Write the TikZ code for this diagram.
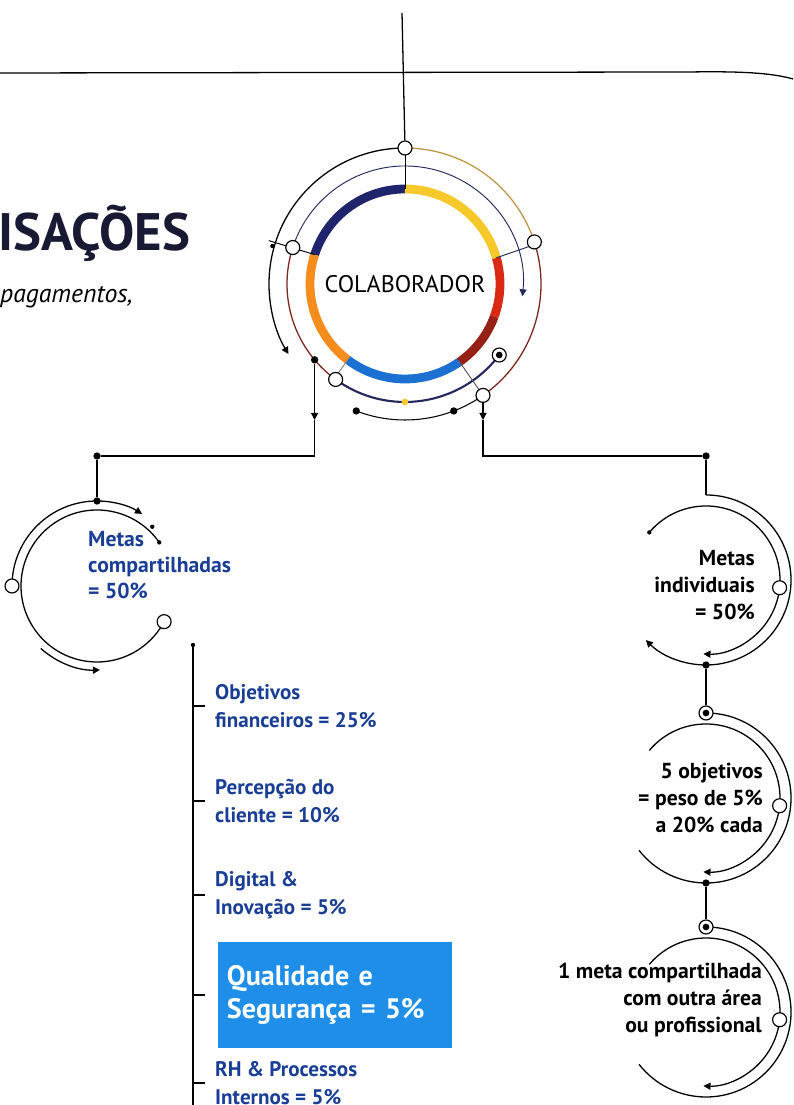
\documentclass[tikz,border=0pt]{standalone}
\usepackage{fontspec}
\setmainfont{PT Sans}
\usetikzlibrary{arrows.meta,positioning,calc}
\definecolor{ringnavy}{RGB}{32,36,108}
\definecolor{ringorange}{RGB}{245,140,30}
\definecolor{ringblue}{RGB}{28,112,210}
\definecolor{ringdark}{RGB}{150,32,22}
\definecolor{ringred}{RGB}{218,42,20}
\definecolor{ringyellow}{RGB}{246,200,42}
\definecolor{goldline}{RGB}{190,150,70}
\definecolor{brownline}{RGB}{122,38,26}
\definecolor{navyline}{RGB}{36,40,92}
\definecolor{textblue}{RGB}{26,62,150}
\definecolor{boxblue}{RGB}{30,142,232}
\definecolor{titlenavy}{RGB}{24,26,52}

\begin{document}
\begin{tikzpicture}[x=0.03cm, y=0.03cm,
		wire/.style={draw, line width=1.1pt},
		arr/.style={wire, -{Triangle[length=6pt,width=6pt]}},
		ring/.style={line width=7.5pt},
		wcirc/.style={circle, draw, fill=white, line width=1pt, inner sep=0pt, minimum size=0.42cm},
		bdot/.style={circle, fill=black, inner sep=0pt, minimum size=0.22cm},
		sdot/.style={circle, fill=black, inner sep=0pt, minimum size=0.13cm},
		bull/.style={wcirc, path picture={\fill[black] (path picture bounding box.center) circle (0.1cm);}},
		goal/.style={font=\bfseries\fontsize{18.5}{22}\selectfont, text=textblue, align=left, anchor=west, inner sep=0pt},
		item/.style={font=\bfseries\fontsize{18}{24}\selectfont, text=textblue, align=left, anchor=west, inner sep=0pt},
		indiv/.style={font=\bfseries\fontsize{18.5}{23}\selectfont, align=right, anchor=east, inner sep=0pt},
		qbox/.style={fill=boxblue, text=white, font=\bfseries\fontsize{24}{28}\selectfont, align=left,
			text width=6.48cm, inner xsep=0.27cm, minimum height=3.15cm}]
	\useasboundingbox (0,0) rectangle (793,1105);

	% Heading
	\node[anchor=west, inner sep=0pt, text=titlenavy, font=\bfseries\fontsize{45}{48}\selectfont] (title) at (-2,872) {ISAÇÕES};
	\node[anchor=west, inner sep=0pt, font=\itshape\fontsize{22}{24}\selectfont] (subtitle) at (0,808) {pagamentos,};
	\coordinate (lineL) at (0,1032);
	\coordinate (lineR) at (793,1026);
	\coordinate (stem) at (402,1092);
	\draw[wire] (lineL) -- (690,1033) .. controls (750,1034) and (775,1031) .. (lineR);

	% Colaborador ring
	\node[font=\fontsize{20.5}{22}\selectfont] (colab) at (405,821) {COLABORADOR};
	\foreach \a/\b/\c in {90/162/ringnavy, 162/233/ringorange, 233/305/ringblue, 305/340/ringdark, 340/376/ringred, 16/90/ringyellow}
		\draw[ring, \c] (colab) ++(\a:95) arc[start angle=\a, end angle=\b, radius=95];

	% Arcs round the ring
	\draw[arr] (colab) ++(90:136) arc[start angle=90, end angle=211, radius=136];
	\draw[wire, goldline] (colab) ++(90:136) arc[start angle=90, end angle=18, radius=136];
	\draw[wire, brownline] (colab) ++(18:136) arc[start angle=18, end angle=-55, radius=136];
	\draw[arr, navyline, line width=0.8pt] (colab) ++(162:118) arc[start angle=162, end angle=-6, radius=118];
	\draw[wire, brownline] (colab) ++(162:118) arc[start angle=162, end angle=234, radius=118];
	\draw[wire, navyline, line width=1.8pt] (colab) ++(234:118) arc[start angle=234, end angle=323, radius=118];
	\draw[wire, line width=0.9pt] (colab) ++(249:136) arc[start angle=249, end angle=305, radius=136];
	\draw[wire, line width=0.8pt] (colab) ++(90:95) -- ++(90:41);
	\draw[wire, line width=0.8pt] (colab) ++(162:95) -- ++(163:48);
	\draw[wire, line width=0.8pt, navyline] (colab) ++(16:95) -- ++(19:41);
	\draw[wire, line width=0.8pt, gray] (colab) ++(233:95) -- ++(234:23);
	\draw[wire, line width=0.8pt, gray!70!black] (colab) ++(305:95) -- ++(305:41);

	% Nodes on the arcs
	\node[wcirc] (wtop) at ($(colab)+(90:136)$) {};
	\node[wcirc] (wright) at ($(colab)+(18:136)$) {};
	\node[wcirc] (wleft) at ($(colab)+(162:118)$) {};
	\node[wcirc] (wlow) at ($(colab)+(234:118)$) {};
	\node[wcirc] (wbot) at ($(colab)+(-55:136)$) {};
	\node[sdot] (ldot) at ($(colab)+(164:138)$) {};
	\node[bdot] (ldrop) at ($(colab)+(220:118)$) {};
	\node[bull] (rbull) at ($(colab)+(323:118)$) {};
	\node[circle, fill=ringyellow, inner sep=0pt, minimum size=0.2cm] (ydot) at ($(colab)+(270:118)$) {};
	\node[bdot] (bdl) at ($(colab)+(249:136)$) {};
	\node[bdot] (bdr) at ($(colab)+(291:136)$) {};
	\draw[wire] (stem) -- (wtop);

	% Branches
	\coordinate (lmid) at (315,685);
	\coordinate (rmid) at (482,685);
	\node[bdot] (lbr) at (97,649) {};
	\node[bdot] (rbr) at (706,649) {};
	\draw[arr] (ldrop) -- (ldrop |- lmid);
	\draw[wire] (ldrop |- lmid) |- (lbr);
	\draw[arr] (wbot) -- (wbot |- rmid);
	\draw[wire] (wbot |- rmid) |- (rbr);

	% Metas compartilhadas
	\coordinate (lc) at (97,519);
	\draw[arr] (lc) ++(180:85) arc[start angle=180, end angle=58, radius=85];
	\draw[wire] (lc) ++(35:76) arc[start angle=35, end angle=332, radius=76];
	\draw[arr] (lc) ++(228:84) arc[start angle=228, end angle=272, radius=84];
	\node[wcirc] (lw1) at ($(lc)+(180:85)$) {};
	\node[wcirc] (lw2) at ($(lc)+(332:76)$) {};
	\node[bdot] (ltop) at ($(lc)+(90:85)$) {};
	\node[sdot] (ls1) at ($(lc)+(47:81)$) {};
	\node[sdot] (ls2) at ($(lc)+(35:76)$) {};
	\draw[wire] (lbr) -- (ltop);
	\node[goal] (shared) at (88,540) {Metas\\compartilhadas\\= 50\%};

	% Lista
	\node[sdot] (trunk) at (193,460) {};
	\coordinate (trunkend) at (193,0);
	\draw[wire] (trunk) -- (trunkend);
	\node[item] (obj) at (215,399) {Objetivos\\financeiros = 25\%};
	\node[item] (perc) at (215,304) {Percepção do\\cliente = 10\%};
	\node[item] (digi) at (215,210) {Digital \&\\Inovação = 5\%};
	\node[qbox] (qual) at (335,110) {Qualidade e\\Segurança = 5\%};
	\node[item] (rh) at (215,22) {RH \& Processos\\Internos = 5\%};
	\foreach \n in {obj,perc,digi,rh}
		\draw[wire] (\n.west -| trunk) -- ([xshift=-0.3cm]\n.west);
	\draw[wire] (qual.west -| trunk) -- ([xshift=-0.39cm]qual.west);

	% Metas individuais
	\foreach \cy/\n in {525/1, 307/2, 93/3} {
		\coordinate (rc\n) at (706,\cy);
		\draw[arr] (rc\n) ++(140:74) arc[start angle=140, end angle=-92, radius=74];
		\node[wcirc] (rw\n) at ($(rc\n)+(-6:74)$) {};
	}
	\draw[arr] (rc1) ++(90:85) arc[start angle=90, end angle=-135, radius=85];
	\draw[wire] (rc2) ++(90:85) arc[start angle=90, end angle=-142, radius=85];
	\draw[wire] (rc3) ++(90:85) arc[start angle=90, end angle=-142, radius=85];
	\node[sdot] (r1s) at ($(rc1)+(140:74)$) {};
	\coordinate (r1top) at ($(rc1)+(90:85)$);
	\node[bdot] (r1bot) at ($(rc1)+(-90:85)$) {};
	\node[bull] (r2top) at ($(rc2)+(90:85)$) {};
	\node[bdot] (r2bot) at ($(rc2)+(-90:85)$) {};
	\node[bull] (r3top) at ($(rc3)+(90:85)$) {};
	\draw[wire] (rbr) -- (r1top);
	\draw[wire] (r1bot) -- (r2top);
	\draw[wire] (r2bot) -- (r3top);
	\node[indiv] (indiv) at (755,520) {Metas\\individuais\\= 50\%};
	\node[indiv] (five) at (763,307) {5 objetivos\\= peso de 5\%\\a 20\% cada};
	\node[indiv] (onegoal) at (762,105) {1 meta compartilhada\\com outra área\\ou profissional};
\end{tikzpicture}
\end{document}
